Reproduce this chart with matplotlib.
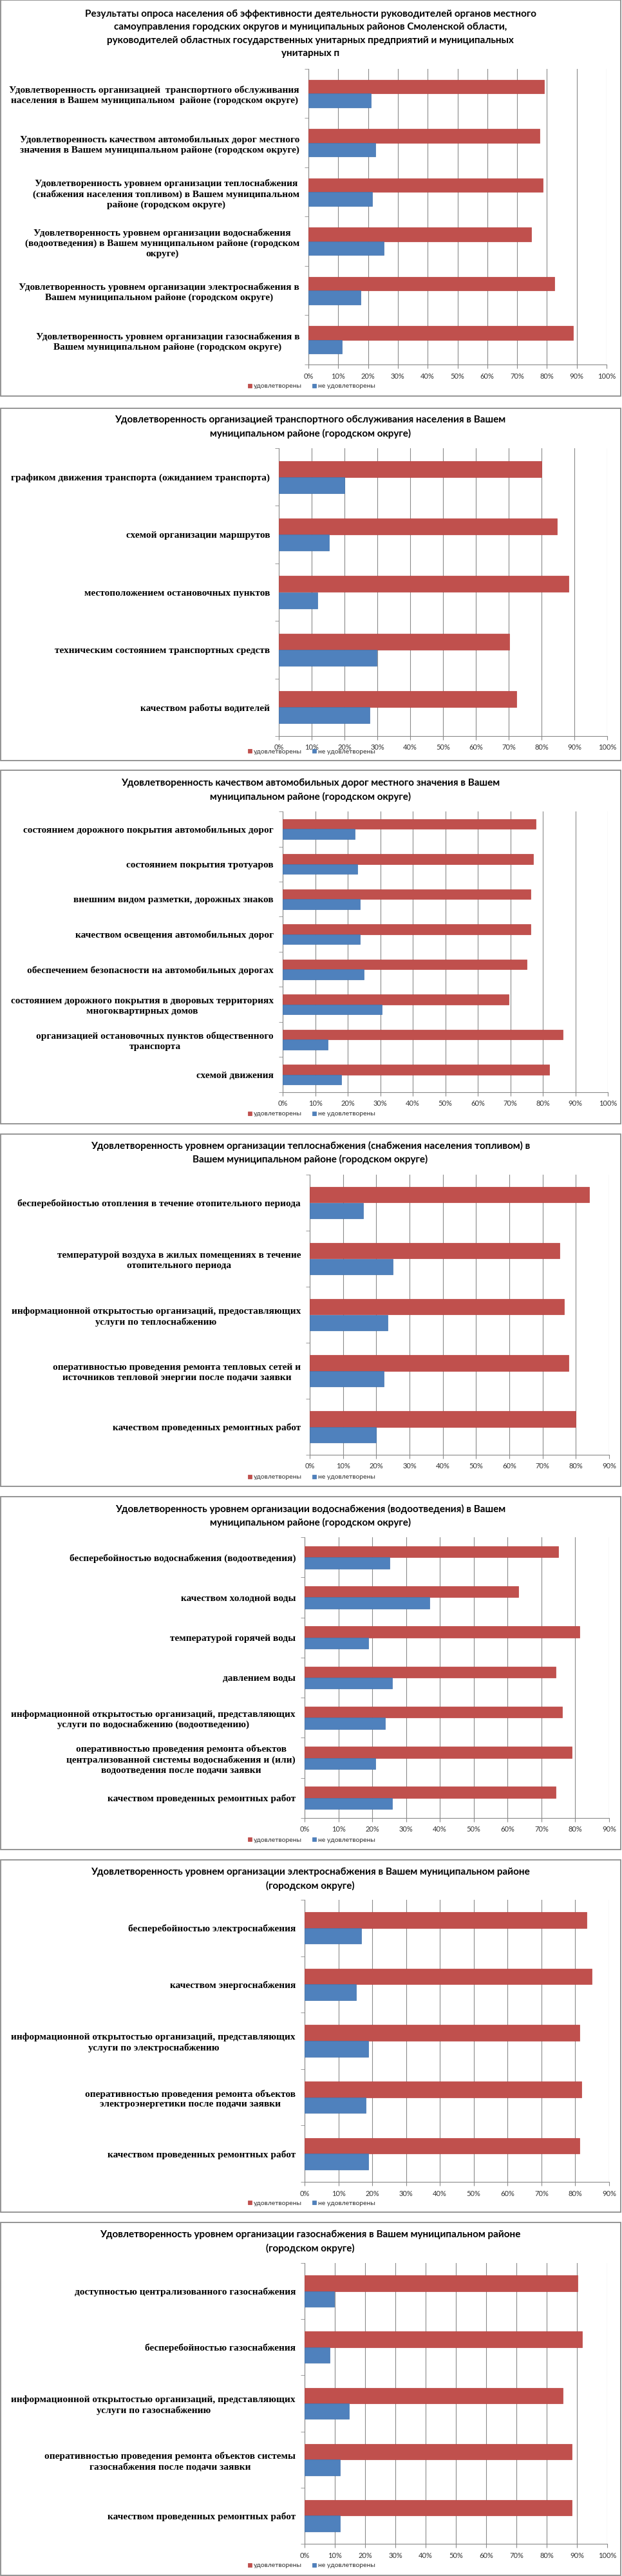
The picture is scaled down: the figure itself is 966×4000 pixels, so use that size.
import matplotlib
matplotlib.use("Agg")
import matplotlib.pyplot as plt
from matplotlib.patches import Rectangle
from matplotlib.ticker import FuncFormatter, MultipleLocator

W, H = 966, 4000
RED = "#C0504D"
BLUE = "#4F81BD"
GRID = "#8A8A8A"
LABEL_FONT = ["Liberation Serif", "DejaVu Serif"]
TITLE_FONT = ["Lato", "DejaVu Sans"]

series_names = ["удовлетворены", "не удовлетворены"]

titles = [
    "Результаты опроса населения об эффективности деятельности руководителей органов местного\n"
    "самоуправления городских округов и муниципальных районов Смоленской области,\n"
    "руководителей областных государственных унитарных предприятий и муниципальных\n"
    "унитарных п",
    "Удовлетворенность организацией транспортного обслуживания населения в Вашем\n"
    "муниципальном районе (городском округе)",
    "Удовлетворенность качеством автомобильных дорог местного значения в Вашем\n"
    "муниципальном районе (городском округе)",
    "Удовлетворенность уровнем организации теплоснабжения (снабжения населения топливом) в\n"
    "Вашем муниципальном районе (городском округе)",
    "Удовлетворенность уровнем организации водоснабжения (водоотведения) в Вашем\n"
    "муниципальном районе (городском округе)",
    "Удовлетворенность уровнем организации электроснабжения в Вашем муниципальном районе\n"
    "(городском округе)",
    "Удовлетворенность уровнем организации газоснабжения в Вашем муниципальном районе\n"
    "(городском округе)",
]

cats_summary = [
    "Удовлетворенность организацией  транспортного обслуживания\nнаселения в Вашем муниципальном  районе (городском округе)",
    "Удовлетворенность качеством автомобильных дорог местного\nзначения в Вашем муниципальном районе (городском округе)",
    "Удовлетворенность уровнем организации теплоснабжения\n(снабжения населения топливом) в Вашем муниципальном\nрайоне (городском округе)",
    "Удовлетворенность уровнем организации водоснабжения\n(водоотведения) в Вашем муниципальном районе (городском\nокруге)",
    "Удовлетворенность уровнем организации электроснабжения в\nВашем муниципальном районе (городском округе)",
    "Удовлетворенность уровнем организации газоснабжения в\nВашем муниципальном районе (городском округе)",
]
sat_summary = [79.0, 77.6, 78.6, 74.8, 82.6, 88.8]
unsat_summary = [21.0, 22.4, 21.4, 25.2, 17.4, 11.2]

cats_transport = [
    "графиком движения транспорта (ожиданием транспорта)",
    "схемой организации маршрутов",
    "местоположением остановочных пунктов",
    "техническим состоянием транспортных средств",
    "качеством работы водителей",
]
sat_transport = [80.0, 84.8, 88.3, 70.1, 72.3]
unsat_transport = [20.0, 15.2, 11.7, 29.9, 27.7]

cats_roads = [
    "состоянием дорожного покрытия автомобильных дорог",
    "состоянием покрытия тротуаров",
    "внешним видом разметки, дорожных знаков",
    "качеством освещения автомобильных дорог",
    "обеспечением безопасности на автомобильных дорогах",
    "состоянием дорожного покрытия в дворовых территориях\nмногоквартирных домов",
    "организацией остановочных пунктов общественного\nтранспорта",
    "схемой движения",
]
sat_roads = [77.8, 77.0, 76.3, 76.3, 75.0, 69.5, 86.1, 81.9]
unsat_roads = [22.2, 23.0, 23.7, 23.7, 25.0, 30.5, 13.9, 18.1]

cats_heat = [
    "бесперебойностью отопления в течение отопительного периода",
    "температурой воздуха в жилых помещениях в течение\nотопительного периода",
    "информационной открытостью организаций, предоставляющих\nуслуги по теплоснабжению",
    "оперативностью проведения ремонта тепловых сетей и\nисточников тепловой энергии после подачи заявки",
    "качеством проведенных ремонтных работ",
]
sat_heat = [84.0, 75.1, 76.5, 77.8, 80.0]
unsat_heat = [16.0, 24.9, 23.5, 22.2, 20.0]

cats_water = [
    "бесперебойностью водоснабжения (водоотведения)",
    "качеством холодной воды",
    "температурой горячей воды",
    "давлением воды",
    "информационной открытостью организаций, представляющих\nуслуги по водоснабжению (водоотведению)",
    "оперативностью проведения ремонта объектов\nцентрализованной системы водоснабжения и (или)\nводоотведения после подачи заявки",
    "качеством проведенных ремонтных работ",
]
sat_water = [74.9, 63.1, 81.2, 74.2, 76.2, 79.0, 74.2]
unsat_water = [25.1, 36.9, 18.8, 25.8, 23.8, 21.0, 25.8]

cats_power = [
    "бесперебойностью электроснабжения",
    "качеством энергоснабжения",
    "информационной открытостью организаций, представляющих\nуслуги по электроснабжению",
    "оперативностью проведения ремонта объектов\nэлектроэнергетики после подачи заявки",
    "качеством проведенных ремонтных работ",
]
sat_power = [83.3, 84.8, 81.2, 81.9, 81.2]
unsat_power = [16.7, 15.2, 18.8, 18.1, 18.8]

cats_gas = [
    "доступностью централизованного газоснабжения",
    "бесперебойностью газоснабжения",
    "информационной открытостью организаций, представляющих\nуслуги по газоснабжению",
    "оперативностью проведения ремонта объектов системы\nгазоснабжения после подачи заявки",
    "качеством проведенных ремонтных работ",
]
sat_gas = [90.3, 91.7, 85.4, 88.2, 88.2]
unsat_gas = [9.7, 8.3, 14.6, 11.8, 11.8]

xmax = [100, 100, 100, 90, 90, 90, 100]

# pixel layout (y from top): panel box, plot area, title centre, legend centre
panel_boxes = [(0, 615), (634, 1181), (1196, 1745), (1761, 2308),
               (2324, 2872), (2888, 3435), (3451, 3999)]
plot_boxes = [(479, 942, 107, 566), (433, 943, 696, 1143), (439, 944, 1260, 1696),
              (481, 946, 1824, 2259), (473, 946, 2387, 2823), (473, 946, 2950, 3388),
              (473, 943, 3514, 3950)]
title_y = [52, 663, 1227, 1790, 2354, 2918, 3481]
legend_y = [600, 1167, 1730, 2294, 2857, 3421, 3984]

panels = [
    (cats_summary, sat_summary, unsat_summary),
    (cats_transport, sat_transport, unsat_transport),
    (cats_roads, sat_roads, unsat_roads),
    (cats_heat, sat_heat, unsat_heat),
    (cats_water, sat_water, unsat_water),
    (cats_power, sat_power, unsat_power),
    (cats_gas, sat_gas, unsat_gas),
]

fig = plt.figure(figsize=(W / 100, H / 100), dpi=100)
fig.patch.set_facecolor("white")

for k, (cats, sat, unsat) in enumerate(panels):
    y0, y1 = panel_boxes[k]
    fig.patches.append(Rectangle((1 / W, 1 - y1 / H), 963 / W, (y1 - y0) / H,
                                 transform=fig.transFigure, fill=False,
                                 edgecolor="#8C8C8C", lw=1.3))

    px0, px1, py0, py1 = plot_boxes[k]
    ax = fig.add_axes([px0 / W, 1 - py1 / H, (px1 - px0) / W, (py1 - py0) / H])
    n = len(cats)
    pos = list(range(n))
    h = 0.28
    ax.barh([p - h / 2 for p in pos], sat, height=h, color=RED,
            edgecolor="#B9413E", lw=0.5, label=series_names[0], zorder=3)
    ax.barh([p + h / 2 for p in pos], unsat, height=h, color=BLUE,
            edgecolor="#3F71AD", lw=0.5, label=series_names[1], zorder=3)

    ax.set_ylim(n - 0.5, -0.5)
    ax.set_xlim(0, xmax[k])
    ax.xaxis.set_major_locator(MultipleLocator(10))
    ax.xaxis.set_major_formatter(FuncFormatter(lambda v, p: f"{v:.0f}%"))
    ax.grid(axis="x", color=GRID, lw=0.8, zorder=0)
    ax.set_axisbelow(True)

    ax.set_yticks(pos)
    ax.set_yticklabels(cats, fontsize=11.1, fontweight="bold", family=LABEL_FONT)
    for lab in ax.get_yticklabels():
        lab.set_multialignment("center")
        lab.set_linespacing(1.25)
    ax.set_yticks([p + 0.5 for p in range(-1, n)], minor=True)
    ax.tick_params(axis="y", which="major", length=0, pad=10)
    ax.tick_params(axis="y", which="minor", length=4, color=GRID, direction="out")
    ax.tick_params(axis="x", length=4, color=GRID, labelsize=8, labelcolor="#333333", pad=5)
    for lab in ax.get_xticklabels():
        lab.set_family(TITLE_FONT)

    for s in ("top", "right"):
        ax.spines[s].set_visible(False)
    for s in ("left", "bottom"):
        ax.spines[s].set_color(GRID)
        ax.spines[s].set_linewidth(0.8)

    fig.text(482 / W, 1 - title_y[k] / H, titles[k], ha="center", va="center",
             fontsize=11, fontweight="bold", family=TITLE_FONT, linespacing=1.55)

    handles, labels = ax.get_legend_handles_labels()
    fig.legend(handles, labels, loc="center", bbox_to_anchor=(484 / W, 1 - legend_y[k] / H),
               ncol=2, frameon=False, handlelength=0.6, handleheight=0.6,
               handletextpad=0.3, columnspacing=1.5, prop={"family": TITLE_FONT, "size": 7.5},
               labelcolor="#333333")

fig.savefig("out.png", dpi=100, facecolor="white")
